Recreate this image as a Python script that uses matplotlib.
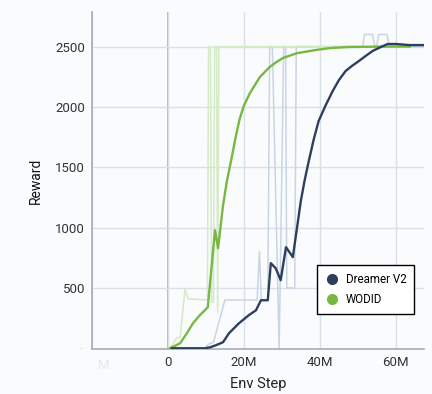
import matplotlib.pyplot as plt
from matplotlib.lines import Line2D
from matplotlib import transforms

plt.rcParams['font.family'] = ['Roboto', 'DejaVu Sans']

# env steps in millions, reward
dreamer_raw_x = [1.0, 10.0, 10.5, 12.0, 15.0, 23.5, 24.1, 24.6, 26.3, 26.8, 27.5, 29.3, 30.5, 31.0,
                 31.3, 33.4, 33.8, 51.3, 51.8, 53.9, 54.5, 55.0, 55.5, 57.7, 58.4, 67.4]
dreamer_raw_y = [0, 0, 30, 50, 400, 400, 800, 400, 400, 2500, 2500, 0, 2500, 2500,
                 500, 500, 2500, 2500, 2600, 2600, 2500, 2500, 2600, 2600, 2500, 2500]

wodid_raw_x = [0.5, 2.4, 3.2, 4.5, 5.3, 10.4, 10.7, 11.2, 11.5, 12.0, 12.3, 12.8, 13.1, 13.4, 63.7]
wodid_raw_y = [0, 90, 90, 490, 410, 400, 2500, 2500, 380, 380, 2500, 2500, 300, 2500, 2500]

dreamer_x = [1.0, 9.7, 11.1, 12.6, 14.5, 16.1, 18.7, 21.3, 23.2, 24.5, 26.3, 27.1, 28.4, 29.7,
             31.1, 32.9, 35.0, 36.0, 37.1, 38.4, 39.7, 41.5, 43.4, 45.0, 46.8, 48.5, 50.3,
             52.0, 53.9, 56.0, 57.9, 60.0, 63.7, 67.4]
dreamer_y = [0, 0, 8, 25, 50, 125, 207, 274, 315, 398, 398, 705, 663, 564,
             838, 755, 1219, 1390, 1551, 1730, 1883, 2010, 2131, 2220, 2297, 2340, 2380,
             2420, 2463, 2495, 2521, 2521, 2512, 2512]

wodid_x = [0.5, 3.2, 5.0, 6.6, 8.4, 10.5, 12.4, 13.2, 14.5, 15.5, 16.8, 17.9, 18.9, 20.0,
           21.6, 22.9, 24.2, 26.8, 28.5, 30.3, 34.0, 38.9, 43.0, 47.6, 55.0, 63.7]
wodid_y = [0, 41, 125, 207, 274, 340, 978, 829, 1180, 1380, 1580, 1760, 1900, 2010,
           2114, 2180, 2247, 2330, 2370, 2405, 2445, 2471, 2488, 2496, 2499, 2500]

x_ticks = [-20, 0, 20, 40, 60]
x_labels = ['', '0', '20M', '40M', '60M']
y_ticks = [500, 1000, 1500, 2000, 2500]

navy = '#2e3f5e'
green = '#77b843'
bg = '#fafbfd'

fig = plt.figure(figsize=(4.32, 3.94), dpi=100, facecolor=bg)
ax = fig.add_axes([0.213, 0.1142, 0.768, 0.8553], facecolor=bg)

ax.plot(dreamer_raw_x, dreamer_raw_y, color='#c9d5e3', lw=1.1, zorder=2)
ax.plot(wodid_raw_x, wodid_raw_y, color='#d5eac6', lw=1.1, zorder=2)
ax.plot(wodid_x, wodid_y, color=green, lw=1.7, zorder=4)
ax.plot(dreamer_x, dreamer_y, color=navy, lw=1.7, zorder=5)

ax.set_xlim(-20, 67.4)
ax.set_ylim(-6, 2786)
ax.set_xticks(x_ticks)
ax.set_xticklabels(x_labels)
ax.set_yticks(y_ticks)
ax.tick_params(length=0, labelsize=9.5, labelcolor='#333333')
ax.tick_params(axis='x', pad=5)
ax.tick_params(axis='y', pad=5)

ax.grid(True, color='#d9e0e8', lw=1.0, zorder=0)
ax.axvline(0, color='#a3acb8', lw=1.2, zorder=1)
for s in ['top', 'right']:
    ax.spines[s].set_visible(False)
for s in ['left', 'bottom']:
    ax.spines[s].set_color('#a3acb8')
    ax.spines[s].set_linewidth(1.2)

# faded labels left by the source screenshot
trans = transforms.blended_transform_factory(ax.transData, ax.transAxes)
ax.text(-17, -0.05, 'M', transform=trans, ha='center', va='center', fontsize=9.5, color='#e2e6ec')
ax.text(-0.035, 0.0, '-', transform=ax.transAxes, ha='center', va='center', fontsize=9.5, color='#e2e6ec')

ax.set_ylabel('Reward', fontsize=10, color='#111111', labelpad=9)
ax.set_xlabel('Env Step', fontsize=10.5, color='#222222', labelpad=6)

handles = [Line2D([], [], ls='none', marker='o', ms=7, color=navy),
           Line2D([], [], ls='none', marker='o', ms=7, color=green)]
leg = ax.legend(handles, ['Dreamer V2', 'WODID'], loc='lower left', bbox_to_anchor=(0.66, 0.086),
                fontsize=8.3, frameon=True, fancybox=False, edgecolor='black', framealpha=1,
                handletextpad=0.6, borderpad=0.7, labelspacing=0.6, handlelength=1.2)
leg.get_frame().set_linewidth(1.0)
leg.set_zorder(10)

fig.savefig('out.png', dpi=100, facecolor=bg)
